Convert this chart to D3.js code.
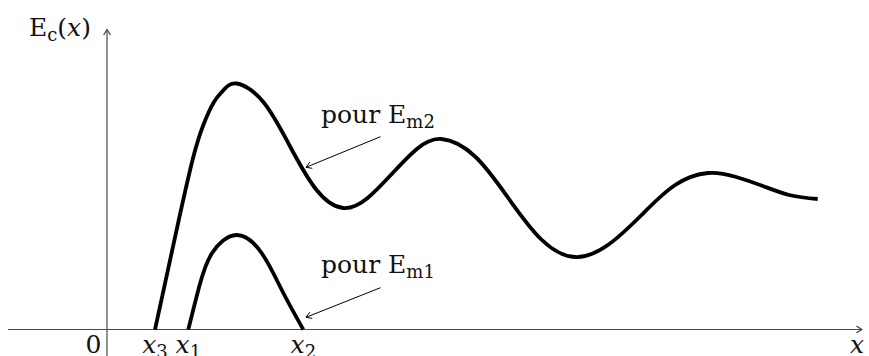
<!DOCTYPE html>
<html>
<head>
<meta charset="utf-8">
<script src="https://cdn.jsdelivr.net/npm/d3@7"></script>
<style>
  html, body { margin: 0; padding: 0; background: #fff; }
  svg { display: block; }
  text { font-family: "DejaVu Serif", "Liberation Serif", serif; fill: #111; }
</style>
</head>
<body>
<svg id="chart" width="869" height="356"></svg>
<script>
// Kinetic energy Ec(x) for two mechanical energies (x in abscissa units, Ec in energy units)
const curveEm2X = [0.636, 0.95, 1.139, 1.272, 1.417, 1.536, 1.715, 2.068, 2.42, 2.773, 3.126, 3.452, 3.778, 4.104, 4.43,
                   4.872, 5.315, 5.757, 6.199, 6.639, 7.08, 7.52, 7.96, 8.323, 8.687, 9.05, 9.413];
const curveEm2Y = [0, 4.37, 6.85, 8.15, 9.1, 9.55, 9.84, 9.11, 7.35, 5.59, 4.86, 5.26, 6.24, 7.22, 7.62,
                   6.93, 5.26, 3.59, 2.9, 3.39, 4.58, 5.77, 6.26, 6.11, 5.74, 5.37, 5.22];
const curveEm1X = [1.077, 1.22, 1.39, 1.715, 2.05, 2.32, 2.6];
const curveEm1Y = [0, 1.7, 3.05, 3.78, 3.05, 1.55, 0];

// Tick labels on the x-axis
const tickLabels = ["0", "x3", "x1", "x2"];
const tickValues = [-0.18, 0.636, 1.077, 2.6];

const svg = d3.select("#chart");
const x = d3.scaleLinear().domain([0, 10]).range([107, 862]);
const y = d3.scaleLinear().domain([0, 12]).range([329.5, 29.5]);

const axisColor = "#4a4a4a";

// axes
svg.append("line").attr("x1", 8).attr("x2", x(10)).attr("y1", y(0)).attr("y2", y(0))
  .attr("stroke", axisColor).attr("stroke-width", 1.2);
svg.append("line").attr("x1", x(0)).attr("x2", x(0)).attr("y1", 356).attr("y2", y(12))
  .attr("stroke", axisColor).attr("stroke-width", 1.2);

function openHead(tipX, tipY, angle, color, w) {
  const len = 6, spread = 0.55;
  const p = d3.path();
  p.moveTo(tipX - len * Math.cos(angle - spread), tipY - len * Math.sin(angle - spread));
  p.lineTo(tipX, tipY);
  p.lineTo(tipX - len * Math.cos(angle + spread), tipY - len * Math.sin(angle + spread));
  svg.append("path").attr("d", p.toString()).attr("fill", "none")
    .attr("stroke", color).attr("stroke-width", w).attr("stroke-linejoin", "round").attr("stroke-linecap", "round");
}
openHead(x(10), y(0), 0, axisColor, 1.2);
openHead(x(0), y(12), -Math.PI / 2, axisColor, 1.2);

// curves
const line = d3.line().x(d => x(d[0])).y(d => y(d[1])).curve(d3.curveNatural);
svg.append("path").attr("d", line(d3.zip(curveEm2X, curveEm2Y)))
  .attr("fill", "none").attr("stroke", "#000").attr("stroke-width", 3.8);
svg.append("path").attr("d", line(d3.zip(curveEm1X, curveEm1Y)))
  .attr("fill", "none").attr("stroke", "#000").attr("stroke-width", 3.8);

// annotation arrows
function annot(x1, y1, x2, y2) {
  svg.append("line").attr("x1", x1).attr("y1", y1).attr("x2", x2).attr("y2", y2)
    .attr("stroke", "#000").attr("stroke-width", 1);
  openHead(x2, y2, Math.atan2(y2 - y1, x2 - x1), "#000", 1);
}
annot(380.5, 136.7, 306, 167.3);
annot(380.5, 287.7, 306, 317.3);

// labels with subscripts
function label(xp, yp, parts, anchor) {
  const t = svg.append("text").attr("x", xp).attr("y", yp).attr("font-size", 25)
    .attr("text-anchor", anchor || "start");
  let shift = 0;
  parts.forEach(p => {
    const sp = t.append("tspan").text(p.t);
    if (p.sub) { sp.attr("font-size", 18).attr("dy", 5 - shift); shift = 5; }
    else { sp.attr("dy", -shift); shift = 0; }
    if (p.it) sp.attr("font-style", "italic");
  });
  return t;
}
label(29, 36, [{t: "E"}, {t: "c", sub: true}, {t: "("}, {t: "x", it: true}, {t: ")"}]);
label(321, 123, [{t: "pour E"}, {t: "m2", sub: true}]);
label(321, 273, [{t: "pour E"}, {t: "m1", sub: true}]);

tickLabels.forEach((lab, i) => {
  const xp = x(tickValues[i]);
  if (lab === "0") {
    label(xp, 353, [{t: "0"}], "middle");
  } else {
    label(xp, 353, [{t: "x", it: true}, {t: lab.slice(1), sub: true}], "middle");
  }
});
label(857, 353, [{t: "x", it: true}], "middle");
</script>
</body>
</html>
